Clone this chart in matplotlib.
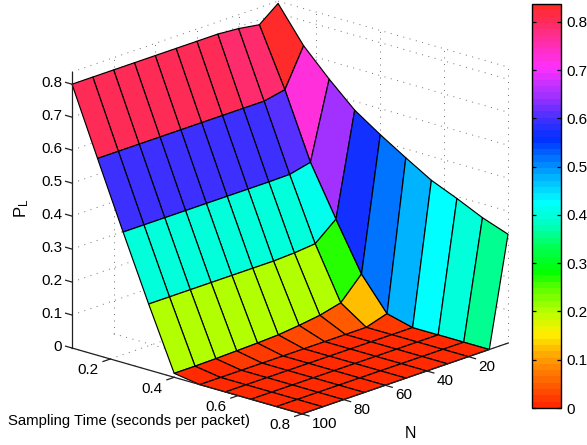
import numpy as np
import matplotlib
matplotlib.use("Agg")
import matplotlib.pyplot as plt
from matplotlib.colors import ListedColormap, Normalize, to_rgb
from matplotlib.cm import ScalarMappable
from mpl_toolkits.mplot3d import proj3d

plt.rcParams['font.family'] = ['Liberation Sans', 'DejaVu Sans']
plt.rcParams['mathtext.default'] = 'regular'

# sampling time (s per packet), one row of the surface per value
sampling_time = [0.08, 0.16, 0.24, 0.32, 0.40, 0.48, 0.56, 0.64, 0.72, 0.80]
n_values = [1, 10, 20, 30, 40, 50, 60, 70, 80, 90, 100]

pl_0 = [0.830, 0.785, 0.795, 0.800, 0.800, 0.800, 0.800, 0.800, 0.800, 0.800, 0.800]
pl_1 = [0.724, 0.610, 0.597, 0.597, 0.597, 0.597, 0.597, 0.597, 0.597, 0.597, 0.597]
pl_2 = [0.645, 0.412, 0.397, 0.396, 0.396, 0.396, 0.396, 0.396, 0.396, 0.396, 0.396]
pl_3 = [0.573, 0.262, 0.209, 0.203, 0.200, 0.200, 0.200, 0.200, 0.200, 0.200, 0.200]
pl_4 = [0.521, 0.118, 0.052, 0.036, 0.027, 0.020, 0.017, 0.015, 0.013, 0.012, 0.012]
pl_5 = [0.473, 0.020, 0, 0, 0, 0, 0, 0, 0, 0, 0]
pl_6 = [0.427, 0, 0, 0, 0, 0, 0, 0, 0, 0, 0]
pl_7 = [0.394, 0, 0, 0, 0, 0, 0, 0, 0, 0, 0]
pl_8 = [0.358, 0, 0, 0, 0, 0, 0, 0, 0, 0, 0]
pl_9 = [0.330, 0, 0, 0, 0, 0, 0, 0, 0, 0, 0]

x_ticks = [0.2, 0.4, 0.6, 0.8]
n_ticks = [20, 40, 60, 80, 100]
z_ticks = [0, 0.1, 0.2, 0.3, 0.4, 0.5, 0.6, 0.7, 0.8]
z_top = 0.837

# colours
cmap_levels = [0, 0.05, 0.10, 0.15, 0.20, 0.25, 0.28, 0.33, 0.38, 0.425, 0.47, 0.50, 0.56, 0.60, 0.65, 0.71, 0.80, 0.837]
cmap_colors = ['#ff2a00', '#ff6600', '#ffa000', '#fff000', '#b0ff00', '#50ff00', '#00ff00', '#00ff50', '#00ffc0',
               '#00ffff', '#00c0ff', '#0090ff', '#0030ff', '#4030ff', '#a030ff', '#ff30ff', '#ff2c68', '#ff2a2a']

W, H = 587, 445
fig = plt.figure(figsize=(W / 100, H / 100), dpi=100)

band_v = np.linspace(0, z_top, 64)
anchor_rgb = np.array([to_rgb(c) for c in cmap_colors])
cmap = ListedColormap(np.column_stack([np.interp(band_v, cmap_levels, anchor_rgb[:, k]) for k in range(3)]))
norm = Normalize(0, z_top)

size = 520
ax = fig.add_axes([0.05, 0.05, size / W, size / H], projection='3d', computed_zorder=False)
ax.set_proj_type('ortho')
ax.view_init(elev=18.3, azim=-47.6)
ax.set_box_aspect((311.4, 305.6, 290.7))
ax.set_xlim(sampling_time[0], sampling_time[-1])
ax.set_ylim(100, 1)
ax.set_zlim(0, z_top)
ax.set_xticks([])
ax.set_yticks([])
ax.set_zticks([])
ax.set_axis_off()


def to_px(x, n, z):
    xs, ys, _ = proj3d.proj_transform(x, n, z, ax.get_proj())
    return ax.transData.transform((xs, ys))


def label_at(x, n, z, s, **kw):
    # flat text placed at a projected data point
    px, py = to_px(x, n, z)
    fig.text(px / W, py / H, s, va='center', fontsize=11, **kw)


# fit the box onto the pixel spots of the z axis in the original
x0, x1 = sampling_time[0], sampling_time[-1]
for _ in range(3):
    ax.apply_aspect()
    a, b = to_px(x0, 100, 0), to_px(x0, 100, z_top)
    size *= 276 / (b[1] - a[1])
    left = ax.get_position().x0 * W + 72 - a[0]
    bottom = ax.get_position().y0 * H + (H - 348) - a[1]
    ax.set_position([left / W, bottom / H, size / W, size / H])
ax.apply_aspect()

# dotted grid on the floor and the two back walls
grid = dict(color='#707070', lw=0.7, ls=(0, (1, 5.7)), zorder=1)
for z in z_ticks[1:] + [z_top]:
    ax.plot([x0, x0], [100, 1], [z, z], **grid)
    ax.plot([x0, x1], [1, 1], [z, z], **grid)
for n in n_ticks:
    ax.plot([x0, x0], [n, n], [0, z_top], **grid)
    ax.plot([x0, x1], [n, n], [0, 0], **grid)
for x in x_ticks:
    ax.plot([x, x], [1, 1], [0, z_top], **grid)
    ax.plot([x, x], [100, 1], [0, 0], **grid)
ax.plot([x0, x0], [1, 1], [0, z_top], **grid)

# the surface
Z = np.array([pl_0, pl_1, pl_2, pl_3, pl_4, pl_5, pl_6, pl_7, pl_8, pl_9])
X, N = np.meshgrid(sampling_time, n_values, indexing='ij')
ax.plot_surface(X, N, Z, rstride=1, cstride=1, facecolors=cmap(norm(Z)), shade=False,
                edgecolor='black', linewidth=0.85, antialiased=True, zorder=2)

# axes lines, ticks and tick labels
axis = dict(color='#202020', lw=0.9, zorder=3)
ax.plot([x0, x0], [100, 100], [0, z_top], **axis)
ax.plot([x0, x1], [100, 100], [0, 0], **axis)
ax.plot([x1, x1], [100, 1], [0, 0], **axis)
for z in z_ticks:
    ax.plot([x0 - 0.02, x0], [100, 100], [z, z], **axis)
    label_at(x0 - 0.031, 100, z - 0.006, f"{z:g}", ha='right')
for x in x_ticks:
    ax.plot([x, x], [100, 103.5], [0, 0], **axis)
    label_at(x, 110.6, -0.011, f"{x:g}", ha='center')
for n in n_ticks:
    ax.plot([x1, x1 + 0.022], [n, n], [0, 0], **axis)
    label_at(x1 + 0.03, n, -0.022, f"{n}", ha='left')

fig.text(22 / W, 1 - 208 / H, "P$_{L}$", rotation=90, ha='center', va='center', fontsize=12)
fig.text(8 / W, 1 - 421 / H, "Sampling Time (seconds per packet)", ha='left', va='center', fontsize=10.7)
fig.text(410 / W, 1 - 433 / H, "N", ha='center', va='center', fontsize=11.5)

# colour bar
cax = fig.add_axes([532 / W, 1 - 408 / H, 29 / W, 404 / H])
cb = fig.colorbar(ScalarMappable(norm=norm, cmap=cmap), cax=cax)
cb.set_ticks(z_ticks)
cb.set_ticklabels([f"{z:g}" for z in z_ticks])
cax.tick_params(direction='in', left=True, right=True, length=3, width=0.9, labelsize=11, pad=4)
cb.outline.set_linewidth(1.0)

fig.savefig("out.png", dpi=100)
